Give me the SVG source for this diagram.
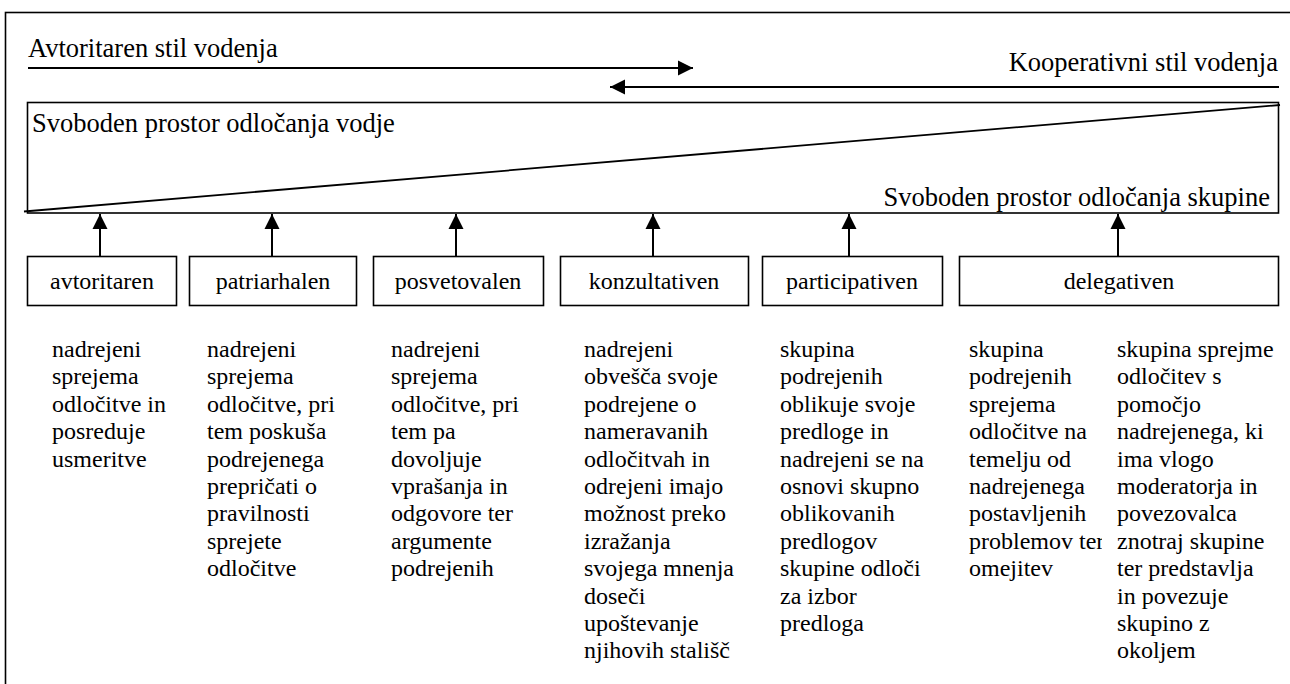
<svg xmlns="http://www.w3.org/2000/svg" width="1290" height="684" viewBox="0 0 1290 684">
  <style>
    text { font-family: "Liberation Serif", "Times New Roman", serif; fill: #000; }
    .head { font-size: 26.5px; }
    .lbl { font-size: 24px; text-anchor: middle; }
    .body { font-size: 24px; }
    .box { fill: #fff; stroke: #000; stroke-width: 1.6; }
    .frame { fill: none; stroke: #000; stroke-width: 1.6; }
    .conn line { stroke: #000; stroke-width: 2; marker-end: url(#ah); }
  </style>
  <defs>
    <marker id="ah" markerUnits="userSpaceOnUse" markerWidth="16" markerHeight="16" viewBox="0 0 16 16" refX="15" refY="8" orient="auto">
      <path d="M0,0.5 L15,8 L0,15.5 Z" fill="#000"/>
    </marker>
    <clipPath id="col6clip">
      <rect x="960" y="320" width="142" height="360"/>
    </clipPath>
  </defs>

  <rect width="1290" height="684" fill="#fff"/>

  <!-- outer frame (right and bottom sides run off the page) -->
  <rect class="frame" x="5.5" y="12.5" width="1300" height="700"/>

  <!-- style headings -->
  <g id="heading-autocratic">
    <text class="head" x="28" y="57">Avtoritaren stil vodenja</text>
  </g>
  <g id="heading-cooperative">
    <text class="head" x="1278" y="71" text-anchor="end">Kooperativni stil vodenja</text>
  </g>

  <!-- decision space band split by the diagonal -->
  <g id="decision-space">
    <rect class="box" x="27.5" y="102.5" width="1251" height="110.5"/>
    <line x1="24" y1="211.5" x2="1280" y2="105" stroke="#000" stroke-width="1.8"/>
    <text class="head" x="32" y="132">Svoboden prostor odločanja vodje</text>
    <text class="head" x="1270" y="206" text-anchor="end">Svoboden prostor odločanja skupine</text>
  </g>

  <!-- connectors -->
  <g id="connectors" class="conn">
    <line x1="28" y1="68" x2="693" y2="68"/>
    <line x1="1279" y1="87" x2="610" y2="87"/>
    <line x1="100" y1="256" x2="100" y2="214"/>
    <line x1="272" y1="256" x2="272" y2="214"/>
    <line x1="456" y1="256" x2="456" y2="214"/>
    <line x1="653" y1="256" x2="653" y2="214"/>
    <line x1="849" y1="256" x2="849" y2="214"/>
    <line x1="1118" y1="256" x2="1118" y2="214"/>
  </g>

  <!-- leadership styles -->
  <g id="avtoritaren">
    <rect class="box" x="27.5" y="256.5" width="149" height="49"/>
    <text class="lbl" x="102" y="289">avtoritaren</text>
  </g>
  <g id="patriarhalen">
    <rect class="box" x="189.5" y="256.5" width="167" height="49"/>
    <text class="lbl" x="273" y="289">patriarhalen</text>
  </g>
  <g id="posvetovalen">
    <rect class="box" x="373.5" y="256.5" width="170" height="49"/>
    <text class="lbl" x="458" y="289">posvetovalen</text>
  </g>
  <g id="konzultativen">
    <rect class="box" x="560.5" y="256.5" width="188" height="49"/>
    <text class="lbl" x="654" y="289">konzultativen</text>
  </g>
  <g id="participativen">
    <rect class="box" x="762.5" y="256.5" width="180" height="49"/>
    <text class="lbl" x="852" y="289">participativen</text>
  </g>
  <g id="delegativen">
    <rect class="box" x="959.5" y="256.5" width="319" height="49"/>
    <text class="lbl" x="1119" y="289">delegativen</text>
  </g>

  <!-- descriptions -->
  <g id="desc-avtoritaren">
    <text class="body" y="357">
      <tspan x="52">nadrejeni</tspan>
      <tspan x="52" dy="27.4">sprejema</tspan>
      <tspan x="52" dy="27.4">odločitve in</tspan>
      <tspan x="52" dy="27.4">posreduje</tspan>
      <tspan x="52" dy="27.4">usmeritve</tspan>
    </text>
  </g>
  <g id="desc-patriarhalen">
    <text class="body" y="357">
      <tspan x="207">nadrejeni</tspan>
      <tspan x="207" dy="27.4">sprejema</tspan>
      <tspan x="207" dy="27.4">odločitve, pri</tspan>
      <tspan x="207" dy="27.4">tem poskuša</tspan>
      <tspan x="207" dy="27.4">podrejenega</tspan>
      <tspan x="207" dy="27.4">prepričati o</tspan>
      <tspan x="207" dy="27.4">pravilnosti</tspan>
      <tspan x="207" dy="27.4">sprejete</tspan>
      <tspan x="207" dy="27.4">odločitve</tspan>
    </text>
  </g>
  <g id="desc-posvetovalen">
    <text class="body" y="357">
      <tspan x="391">nadrejeni</tspan>
      <tspan x="391" dy="27.4">sprejema</tspan>
      <tspan x="391" dy="27.4">odločitve, pri</tspan>
      <tspan x="391" dy="27.4">tem pa</tspan>
      <tspan x="391" dy="27.4">dovoljuje</tspan>
      <tspan x="391" dy="27.4">vprašanja in</tspan>
      <tspan x="391" dy="27.4">odgovore ter</tspan>
      <tspan x="391" dy="27.4">argumente</tspan>
      <tspan x="391" dy="27.4">podrejenih</tspan>
    </text>
  </g>
  <g id="desc-konzultativen">
    <text class="body" y="357">
      <tspan x="584">nadrejeni</tspan>
      <tspan x="584" dy="27.4">obvešča svoje</tspan>
      <tspan x="584" dy="27.4">podrejene o</tspan>
      <tspan x="584" dy="27.4">nameravanih</tspan>
      <tspan x="584" dy="27.4">odločitvah in</tspan>
      <tspan x="584" dy="27.4">odrejeni imajo</tspan>
      <tspan x="584" dy="27.4">možnost preko</tspan>
      <tspan x="584" dy="27.4">izražanja</tspan>
      <tspan x="584" dy="27.4">svojega mnenja</tspan>
      <tspan x="584" dy="27.4">doseči</tspan>
      <tspan x="584" dy="27.4">upoštevanje</tspan>
      <tspan x="584" dy="27.4">njihovih stališč</tspan>
    </text>
  </g>
  <g id="desc-participativen">
    <text class="body" y="357">
      <tspan x="780">skupina</tspan>
      <tspan x="780" dy="27.4">podrejenih</tspan>
      <tspan x="780" dy="27.4">oblikuje svoje</tspan>
      <tspan x="780" dy="27.4">predloge in</tspan>
      <tspan x="780" dy="27.4">nadrejeni se na</tspan>
      <tspan x="780" dy="27.4">osnovi skupno</tspan>
      <tspan x="780" dy="27.4">oblikovanih</tspan>
      <tspan x="780" dy="27.4">predlogov</tspan>
      <tspan x="780" dy="27.4">skupine odloči</tspan>
      <tspan x="780" dy="27.4">za izbor</tspan>
      <tspan x="780" dy="27.4">predloga</tspan>
    </text>
  </g>
  <g id="desc-delegativen-a" clip-path="url(#col6clip)">
    <text class="body" y="357">
      <tspan x="969">skupina</tspan>
      <tspan x="969" dy="27.4">podrejenih</tspan>
      <tspan x="969" dy="27.4">sprejema</tspan>
      <tspan x="969" dy="27.4">odločitve na</tspan>
      <tspan x="969" dy="27.4">temelju od</tspan>
      <tspan x="969" dy="27.4">nadrejenega</tspan>
      <tspan x="969" dy="27.4">postavljenih</tspan>
      <tspan x="969" dy="27.4">problemov ter</tspan>
      <tspan x="969" dy="27.4">omejitev</tspan>
    </text>
  </g>
  <g id="desc-delegativen-b">
    <text class="body" y="357">
      <tspan x="1117">skupina sprejme</tspan>
      <tspan x="1117" dy="27.4">odločitev s</tspan>
      <tspan x="1117" dy="27.4">pomočjo</tspan>
      <tspan x="1117" dy="27.4">nadrejenega, ki</tspan>
      <tspan x="1117" dy="27.4">ima vlogo</tspan>
      <tspan x="1117" dy="27.4">moderatorja in</tspan>
      <tspan x="1117" dy="27.4">povezovalca</tspan>
      <tspan x="1117" dy="27.4">znotraj skupine</tspan>
      <tspan x="1117" dy="27.4">ter predstavlja</tspan>
      <tspan x="1117" dy="27.4">in povezuje</tspan>
      <tspan x="1117" dy="27.4">skupino z</tspan>
      <tspan x="1117" dy="27.4">okoljem</tspan>
    </text>
  </g>
</svg>
